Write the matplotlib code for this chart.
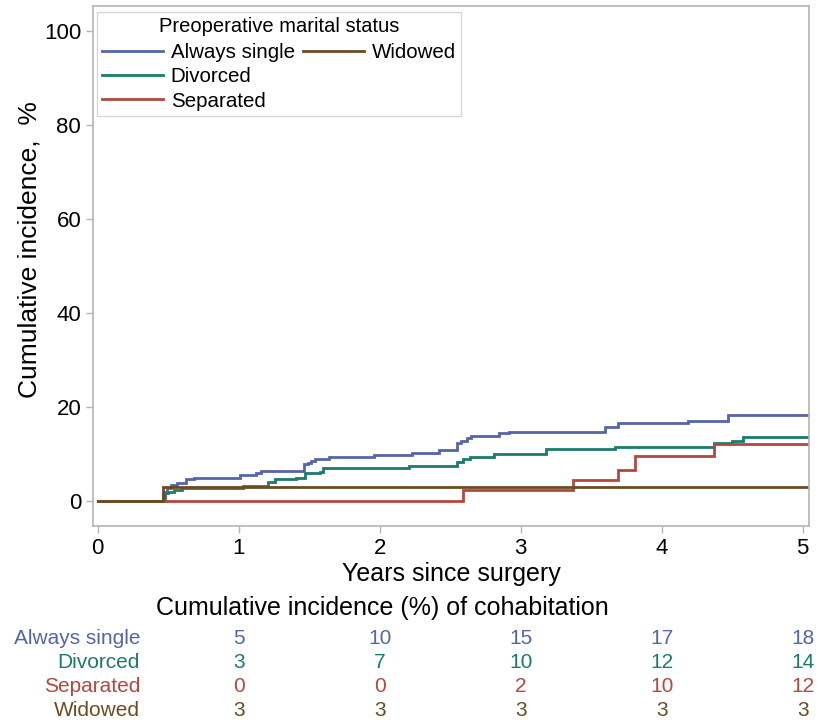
import matplotlib
matplotlib.use("Agg")
import matplotlib.pyplot as plt
from matplotlib.lines import Line2D
from matplotlib.transforms import blended_transform_factory

plt.rcParams['font.family'] = ['Liberation Sans', 'DejaVu Sans']

# Event times (years) and cumulative incidence (%) for each group
single_t = [0.46, 0.47, 0.49, 0.52, 0.56, 0.63, 0.68, 1.01, 1.12, 1.16, 1.46, 1.49,
            1.51, 1.54, 1.64, 1.96, 2.23, 2.42, 2.55, 2.58, 2.62, 2.65, 2.85, 2.92,
            3.60, 3.69, 4.19, 4.47]
single_v = [1.2, 2.0, 2.8, 3.5, 3.9, 4.6, 5.0, 5.5, 6.0, 6.4, 7.8, 8.1,
            8.5, 8.9, 9.3, 9.7, 10.2, 10.9, 12.4, 12.8, 13.4, 13.8, 14.4, 14.7,
            15.8, 16.5, 17.1, 18.4]

divorced_t = [0.48, 0.50, 0.54, 0.60, 1.03, 1.21, 1.26, 1.41, 1.47, 1.58, 1.60,
              2.21, 2.55, 2.59, 2.64, 2.81, 3.18, 3.67, 4.37, 4.50, 4.58]
divorced_v = [1.7, 2.0, 2.3, 2.7, 3.2, 4.1, 4.6, 5.0, 5.9, 6.2, 7.0,
              7.5, 8.4, 8.9, 9.4, 10.1, 11.0, 11.6, 12.3, 12.8, 13.7]

separated_t = [2.59, 3.37, 3.69, 3.81, 4.37]
separated_v = [2.3, 4.5, 6.6, 9.6, 12.1]

widowed_t = [0.46]
widowed_v = [2.9]

follow_up_end = 5.04

groups = ["Always single", "Divorced", "Separated", "Widowed"]
colors = ["#5565AA", "#1B7B6B", "#B5473E", "#6B4C22"]

# Risk table: cumulative incidence (%) at each year
table_years = [1, 2, 3, 4, 5]
table_values = [
    [5, 10, 15, 17, 18],
    [3, 7, 10, 12, 14],
    [0, 0, 2, 10, 12],
    [3, 3, 3, 3, 3],
]

series = [(single_t, single_v), (divorced_t, divorced_v),
          (separated_t, separated_v), (widowed_t, widowed_v)]

fig = plt.figure(figsize=(8.26, 7.24), dpi=100)
ax = fig.add_axes([0.1126, 0.2735, 0.8668, 0.7182])

for (t, v), c in zip(series, colors):
    xs = [0.0] + list(t) + [follow_up_end]
    ys = [0.0] + list(v) + [v[-1]]
    ax.step(xs, ys, where='post', color=c, lw=2.0, solid_joinstyle='miter')

ax.set_xlim(-0.033, 5.045)
ax.set_ylim(-5.3, 105.3)
ax.set_xticks([0, 1, 2, 3, 4, 5])
ax.set_yticks([0, 20, 40, 60, 80, 100])

spine_col = "#B4B4B4"
for s in ax.spines.values():
    s.set_color(spine_col)
    s.set_linewidth(1.2)
ax.tick_params(axis='both', colors=spine_col, labelcolor='black', labelsize=16,
               length=5, width=1.0, direction='out')

ax.set_xlabel("Years since surgery", fontsize=18, labelpad=2)
ax.set_ylabel("Cumulative incidence,  %", fontsize=19)
ax.yaxis.set_label_coords(-0.072, 0.531)

# Legend: three entries in the first column, Widowed alone in the second
handles = [Line2D([], [], color=c, lw=2.0) for c in colors]
blank = Line2D([], [], color='none')
leg = ax.legend(handles[:3] + [handles[3], blank, blank],
                groups[:3] + [groups[3], "", ""],
                ncol=2, loc='upper left', bbox_to_anchor=(0.005, 0.988),
                title="Preoperative marital status", fontsize=14.8,
                title_fontsize=14.5, handlelength=3.0, handletextpad=0.35,
                columnspacing=0.4, labelspacing=0.25, borderpad=0.25,
                frameon=True, fancybox=False, borderaxespad=0.0)
leg.get_frame().set_edgecolor("#CCCCCC")
leg.get_frame().set_linewidth(1.0)
leg._legend_box.sep = 5

# Table below the plot
tr = blended_transform_factory(ax.transData, fig.transFigure)
fig.text(382 / 826, 1 - 608 / 724, "Cumulative incidence (%) of cohabitation",
         fontsize=18, ha='center', va='center')
row_y = [638, 662, 686, 710]
for name, vals, c, py in zip(groups, table_values, colors, row_y):
    yf = 1 - py / 724
    fig.text(140 / 826, yf, name, color=c, fontsize=15, ha='right', va='center')
    for yr, val in zip(table_years, vals):
        ax.text(yr, yf, str(val), transform=tr, color=c, fontsize=15,
                ha='center', va='center', clip_on=False)

fig.savefig("out.png", dpi=100)
